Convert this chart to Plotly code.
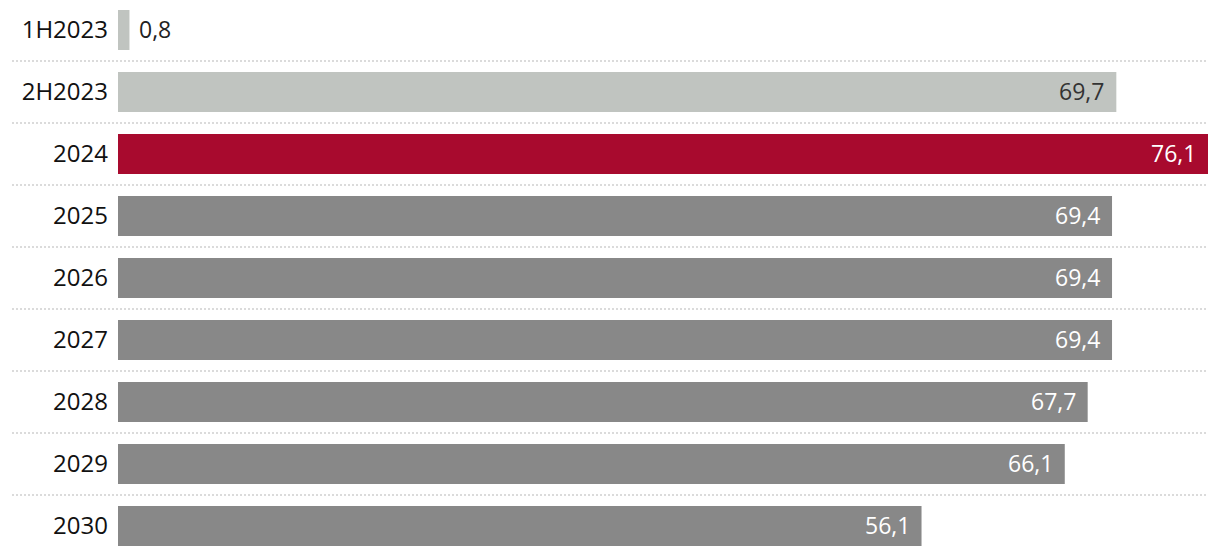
import plotly.graph_objects as go

categories = ["1H2023", "2H2023", "2024", "2025", "2026", "2027", "2028", "2029", "2030"]
values = [0.8, 69.7, 76.1, 69.4, 69.4, 69.4, 67.7, 66.1, 56.1]
bar_colors = ["#c0c4c0", "#c0c4c0", "#a80a2e", "#888888", "#888888", "#888888", "#888888", "#888888", "#888888"]
label_colors = ["#222222", "#333333", "#ffffff", "#ffffff", "#ffffff", "#ffffff", "#ffffff", "#ffffff", "#ffffff"]

FONT = "Open Sans"
idx = list(range(len(categories)))

fig = go.Figure(go.Bar(
    x=values, y=idx, orientation="h",
    marker=dict(color=bar_colors, line=dict(width=0)),
    width=0.645, hoverinfo="skip",
))

annotations = []
for i, v in enumerate(values):
    txt = f"{v:.1f}".replace(".", ",")
    inside = v > 5
    annotations.append(dict(
        x=v, y=i, xref="x", yref="y", text=txt, showarrow=False,
        xanchor="right" if inside else "left",
        xshift=-10 if inside else 8, yshift=1,
        font=dict(family=FONT, size=23, color=label_colors[i]),
    ))

L = 110
shapes = []
for i in range(len(categories) - 1):
    shapes.append(dict(
        type="line", xref="paper", yref="y",
        x0=(4 - L) / 1090, x1=1.0, y0=i + 0.5, y1=i + 0.5,
        line=dict(color="#cfcfcf", width=1.5, dash="2px,2px"), layer="below",
    ))

fig.update_layout(
    width=1220, height=556,
    margin=dict(l=L, r=20, t=0, b=0),
    paper_bgcolor="white", plot_bgcolor="white",
    showlegend=False,
    xaxis=dict(range=[0, 76.1], visible=False, fixedrange=True),
    yaxis=dict(
        tickmode="array", tickvals=idx, ticktext=categories,
        range=[8 + 38 / 62, -22 / 62],
        showgrid=False, zeroline=False, ticks="", showline=False,
        tickfont=dict(family=FONT, size=24, color="#111111"),
        ticklabelstandoff=9,
    ),
    annotations=annotations, shapes=shapes,
)

fig.write_html("out.html")
